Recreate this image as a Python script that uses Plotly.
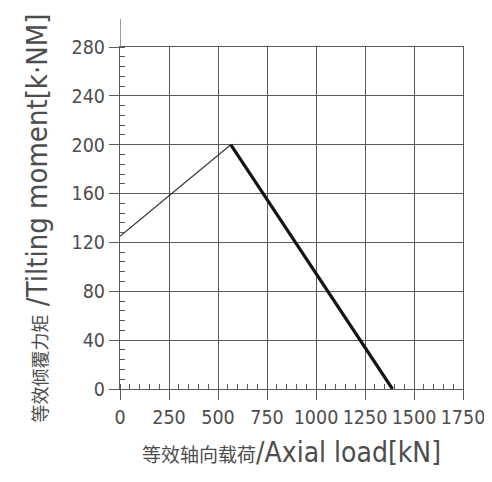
import plotly.graph_objects as go

# data
axial_load = [0, 565, 1390]
tilting_moment = [125, 200, 0]
x_ticks = [0, 250, 500, 750, 1000, 1250, 1500, 1750]
y_ticks = [0, 40, 80, 120, 160, 200, 240, 280]

FONT = "DejaVu Sans Condensed, Liberation Sans Narrow, Liberation Sans, sans-serif"
CJK = "Noto Sans CJK SC"
INK = "#4d4d4d"
GRID = "#5a5a5a"

fig = go.Figure()
fig.add_trace(go.Scatter(x=axial_load[:2], y=tilting_moment[:2], mode="lines",
                         line=dict(color="#333333", width=1.1), showlegend=False))
fig.add_trace(go.Scatter(x=axial_load[1:], y=tilting_moment[1:], mode="lines",
                         line=dict(color="#141414", width=3.2), showlegend=False))

axis_common = dict(showgrid=True, gridcolor=GRID, gridwidth=1.2,
                   showline=True, linecolor=GRID, linewidth=1.2, mirror=True,
                   ticks="outside", ticklen=10, tickwidth=1.2, tickcolor=GRID,
                   zeroline=False, tickangle=0, automargin=False,
                   tickfont=dict(family=FONT, size=19.5, color=INK))

fig.update_xaxes(range=[0, 1750], tickvals=x_ticks, **axis_common,
                 minor=dict(ticks="inside", dtick=50, ticklen=5, tickwidth=1.2, tickcolor=GRID, showgrid=False),
                 title=dict(text="<span style='font-family:%s;font-size:19px'>等效轴向载荷</span>/Axial load[kN]" % CJK,
                            font=dict(family=FONT, size=28, color=INK), standoff=14))
fig.update_yaxes(range=[0, 280], tickvals=y_ticks, **axis_common,
                 minor=dict(ticks="inside", dtick=8, ticklen=5, tickwidth=1.2, tickcolor=GRID, showgrid=False),
                 title=dict(text="<span style='font-family:%s;font-size:18px'>等效倾覆力矩</span> /Tilting moment[k·NM]" % CJK,
                            font=dict(family=FONT, size=29, color=INK), standoff=15))

# y axis line continues above the frame
fig.add_shape(type="line", xref="x", yref="paper", x0=0, x1=0, y0=1, y1=1.082,
              line=dict(color=GRID, width=1.2))

# page adds an 8px body margin, so the figure is a bit smaller than the window
fig.update_layout(width=484, height=474, plot_bgcolor="white", paper_bgcolor="white",
                  margin=dict(l=112, r=29, t=39, b=93))

fig.write_html("out.html")
